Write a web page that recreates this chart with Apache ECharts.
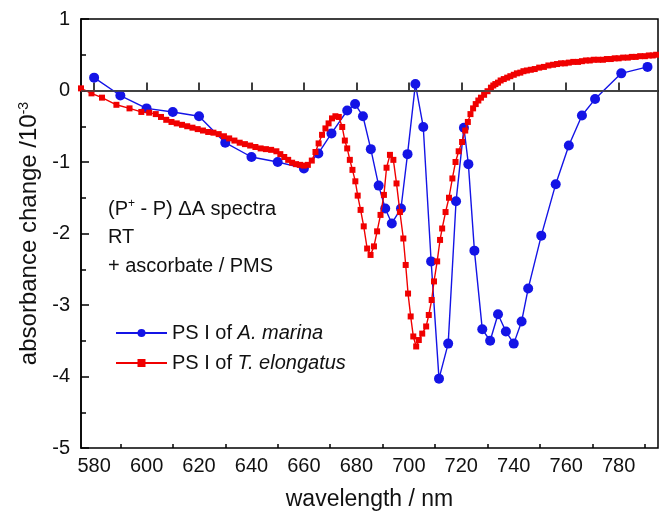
<!DOCTYPE html>
<html>
<head>
<meta charset="utf-8">
<script src="https://cdn.jsdelivr.net/npm/echarts@6/dist/echarts.min.js"></script>
<style>
  html, body { margin: 0; padding: 0; background: #fff; }
  #chart { width: 659px; height: 517px; }
</style>
</head>
<body>
<div id="chart"></div>
<script>
// PS I of A. marina (blue circles)
const marinaWavelength = [580, 590, 600, 610, 620, 630, 640, 650, 660, 665.5, 670.5, 676.5, 679.5,
  682.5, 685.5, 688.5, 691, 693.5, 697, 699.5, 702.5, 705.5, 708.5, 711.5, 715, 718, 721, 722.7,
  725, 728, 731, 734, 737, 740, 743, 745.5, 750.5, 756, 761, 766, 771, 781, 791];
const marinaDelta = [0.18, -0.07, -0.25, -0.30, -0.36, -0.73, -0.93, -1.0, -1.09, -0.88, -0.60, -0.28, -0.19,
  -0.36, -0.82, -1.33, -1.65, -1.86, -1.65, -0.89, 0.09, -0.51, -2.39, -4.03, -3.54, -1.55, -0.52, -1.03,
  -2.24, -3.34, -3.50, -3.13, -3.37, -3.54, -3.23, -2.77, -2.03, -1.31, -0.77, -0.35, -0.12, 0.24, 0.33];

// PS I of T. elongatus (red squares)
const elongatusWavelength = [575, 579, 583, 588.5, 593.5, 598, 601, 603.5, 605.5, 607.5, 609.5, 611.5,
  613.5, 615.5, 617.5, 619.5, 621.5, 623.5, 625.5, 627.5, 629.5, 631.5, 633.5, 635.5, 637.5, 639.5,
  641.5, 643.5, 645.5, 647.5, 649.5, 651, 652.5, 654, 655.5, 657, 658.5, 660, 661.5, 663, 664.4,
  665.6, 666.9, 668.2, 669.4, 670.7, 672, 673.3, 674.6, 675.6, 676.5, 677.5, 678.5, 679.6, 680.5,
  681.6, 682.8, 684.1, 685.4, 686.7, 687.9, 689.2, 690.5, 691.5, 692.8, 694.1, 695.3, 696.6, 697.9,
  698.8, 699.7, 700.7, 701.7, 702.8, 703.8, 705.1, 706.6, 707.6, 708.7, 709.6, 710.8, 711.9, 712.7,
  714, 715.3, 716.6, 717.8, 719, 720.3, 721.5, 722.5, 723.5, 724.5, 725.5, 726.5, 727.5, 728.7, 730,
  731.3, 732.2, 733, 734, 735, 736.2, 737.5, 738.7, 740, 741.2, 742.5, 743.7, 745, 746.5, 748, 749.7,
  751.5, 753.2, 755, 756.5, 758, 759.5, 761, 762.7, 764.5, 766, 767.5, 769, 770.5, 772.2, 774, 775.5,
  777, 778.5, 780, 781.7, 783.5, 785, 786.5, 788.2, 790, 791.5, 793, 794.3, 795.5];
const elongatusDelta = [0.03, -0.04, -0.10, -0.20, -0.25, -0.30, -0.31, -0.33, -0.37, -0.41, -0.44, -0.46,
  -0.48, -0.50, -0.52, -0.54, -0.56, -0.58, -0.59, -0.61, -0.64, -0.67, -0.70, -0.73, -0.75, -0.77,
  -0.79, -0.81, -0.82, -0.83, -0.85, -0.89, -0.93, -0.97, -1.01, -1.03, -1.04, -1.05, -1.04, -0.98, -0.86,
  -0.74, -0.62, -0.53, -0.46, -0.39, -0.36, -0.37, -0.51, -0.70, -0.81, -0.97, -1.11, -1.27, -1.47,
  -1.67, -1.90, -2.21, -2.30, -2.18, -1.97, -1.74, -1.46, -1.08, -0.90, -0.97, -1.30, -1.70, -2.07,
  -2.44, -2.84, -3.16, -3.44, -3.58, -3.49, -3.40, -3.30, -3.14, -2.93, -2.67, -2.39, -2.09, -1.93,
  -1.70, -1.50, -1.23, -1.00, -0.85, -0.72, -0.56, -0.44, -0.33, -0.25, -0.19, -0.14, -0.10, -0.06, -0.01,
  0.04, 0.07, 0.09, 0.11, 0.14, 0.16, 0.18, 0.20, 0.22, 0.24, 0.25, 0.27, 0.28, 0.29, 0.30, 0.32,
  0.33, 0.35, 0.36, 0.37, 0.38, 0.38, 0.39, 0.40, 0.40, 0.41, 0.42, 0.42, 0.43, 0.43, 0.43, 0.44,
  0.44, 0.45, 0.45, 0.46, 0.46, 0.47, 0.47, 0.48, 0.48, 0.49, 0.49, 0.50, 0.50];

const xLabelTicks = [580, 600, 620, 640, 660, 680, 700, 720, 740, 760, 780];
const xMinorTicks = [590, 610, 630, 650, 670, 690, 710, 730, 750, 770, 790];

const FONT = '"Liberation Sans", Arial, sans-serif';
const BLUE = '#1414e6';
const RED = '#f00000';

const pairs = (xs, ys) => xs.map((x, i) => [x, ys[i]]);

const chart = echarts.init(document.getElementById('chart'), null, { renderer: 'canvas' });

chart.setOption({
  animation: false,
  backgroundColor: '#fff',
  textStyle: { fontFamily: FONT, color: '#111' },
  grid: {
    left: 81, right: 1, top: 19, bottom: 69,
    show: true, borderColor: '#000', borderWidth: 1.5,
  },
  xAxis: [
    {
      type: 'value', min: 575, max: 795, position: 'bottom',
      axisLine: { lineStyle: { color: '#000', width: 1.5 } },
      axisTick: { inside: true, length: 8, customValues: xLabelTicks, lineStyle: { color: '#000', width: 1.5 } },
      axisLabel: { customValues: xLabelTicks, fontSize: 20, color: '#111', margin: 8, fontFamily: FONT },
      splitLine: { show: false },
      name: 'wavelength / nm', nameLocation: 'middle', nameGap: 40,
      nameTextStyle: { fontSize: 23, color: '#111', fontFamily: FONT },
    },
    {
      type: 'value', min: 575, max: 795, position: 'bottom',
      axisLine: { show: false },
      axisTick: { inside: true, length: 4, customValues: xMinorTicks, lineStyle: { color: '#000', width: 1.5 } },
      axisLabel: { show: false },
      splitLine: { show: false },
    },
  ],
  yAxis: {
    type: 'value', min: -5, max: 1, interval: 1,
    axisLine: { show: true, lineStyle: { color: '#000', width: 1.5 } },
    axisTick: { inside: true, length: 8, lineStyle: { color: '#000', width: 1.5 } },
    minorTick: { show: true, splitNumber: 2, length: 5, lineStyle: { color: '#000', width: 1.5 } },
    axisLabel: { fontSize: 20, color: '#111', margin: 11, fontFamily: FONT },
    splitLine: { show: false },
    minorSplitLine: { show: false },
    name: '{t|absorbance change /10}{s|-3}',
    nameLocation: 'middle', nameGap: 37,
    nameTextStyle: {
      fontFamily: FONT, color: '#111',
      rich: {
        t: { fontSize: 24, fontFamily: FONT, color: '#111' },
        s: { fontSize: 14, fontFamily: FONT, color: '#111', verticalAlign: 'top', padding: [0, 0, 10, 0] },
      },
    },
  },
  legend: {
    orient: 'vertical', left: 110, top: 318,
    itemWidth: 51, itemHeight: 10, itemGap: 10,
    data: ['PS I of A. marina', 'PS I of T. elongatus'],
    formatter: (name) => name.replace(/^PS I of (.*)$/, '{n|PS I of }{i|$1}'),
    textStyle: {
      fontFamily: FONT, color: '#111', fontSize: 20,
      rich: {
        n: { fontSize: 20, fontFamily: FONT, color: '#111' },
        i: { fontSize: 20, fontFamily: FONT, color: '#111', fontStyle: 'italic' },
      },
    },
  },
  graphic: [
    {
      type: 'text', left: 108, top: 198,
      style: {
        text: '(P{sup|+} - P) ΔA spectra',
        fontSize: 20, fontFamily: FONT, fill: '#111',
        rich: { sup: { fontSize: 12, fontFamily: FONT, fill: '#111', padding: [0, 0, 10, 0] } },
      },
    },
    { type: 'text', left: 108, top: 227, style: { text: 'RT', fontSize: 20, fontFamily: FONT, fill: '#111' } },
    { type: 'text', left: 108, top: 256, style: { text: '+ ascorbate / PMS', fontSize: 20, fontFamily: FONT, fill: '#111' } },
  ],
  series: [
    {
      name: 'PS I of A. marina', type: 'line',
      data: pairs(marinaWavelength, marinaDelta),
      symbol: 'circle', symbolSize: 10, showAllSymbol: true,
      itemStyle: { color: BLUE },
      lineStyle: { color: BLUE, width: 1.4 },
      markLine: {
        silent: true, symbol: 'none', label: { show: false },
        lineStyle: { color: '#444', width: 1.5, type: 'solid' },
        data: [{ yAxis: 0 }],
      },
      z: 2,
    },
    {
      name: 'PS I of T. elongatus', type: 'line',
      data: pairs(elongatusWavelength, elongatusDelta),
      symbol: 'rect', symbolSize: 6, showAllSymbol: true,
      itemStyle: { color: RED },
      lineStyle: { color: RED, width: 1.4 },
      z: 3,
    },
  ],
});
</script>
</body>
</html>
